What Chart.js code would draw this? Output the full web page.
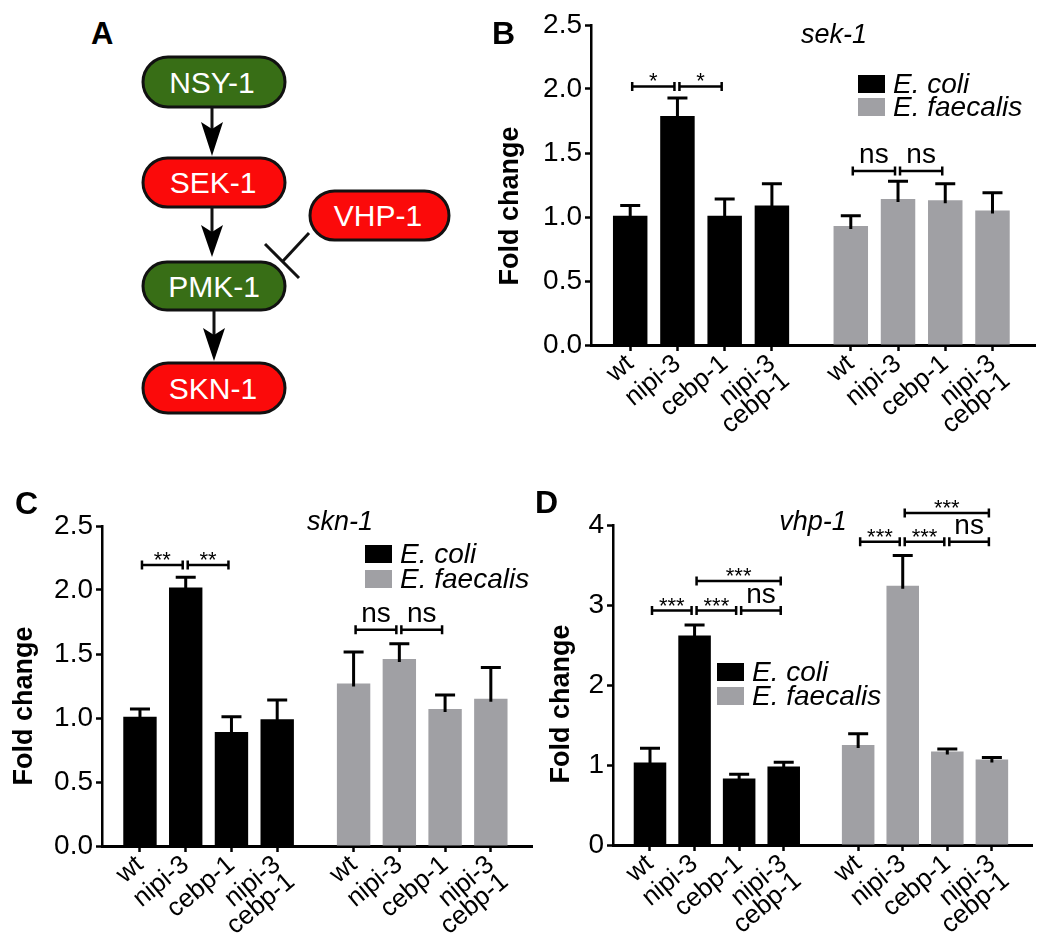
<!DOCTYPE html>
<html>
<head>
<meta charset="utf-8">
<script src="https://cdn.jsdelivr.net/npm/chart.js@4.4.0/dist/chart.umd.min.js"></script>
<style>
  body { margin: 0; background: #fff; }
  #fig { position: relative; width: 1050px; height: 950px; background: #fff; overflow: hidden; }
  #fig canvas, #fig svg { position: absolute; }
  svg text { font-family: "Liberation Sans", Arial, sans-serif; }
</style>
</head>
<body>
<div id="fig">
  <!-- panel A: pathway sketch -->
  <svg id="panelA" width="480" height="460" style="left:0;top:0">
    <text x="91" y="44" font-size="31" font-weight="bold">A</text>
    <g stroke="#111" stroke-width="3">
      <rect x="143" y="57" width="142" height="50" rx="25" fill="#386e16"/>
      <rect x="143" y="158" width="142" height="49" rx="24.5" fill="#fb0a0a"/>
      <rect x="143" y="262" width="142" height="48" rx="24" fill="#386e16"/>
      <rect x="143" y="363" width="142" height="50" rx="25" fill="#fb0a0a"/>
      <rect x="310" y="191" width="139" height="49" rx="24.5" fill="#fb0a0a"/>
      <line x1="212" y1="108" x2="212" y2="130"/>
      <line x1="212" y1="208" x2="212" y2="233"/>
      <line x1="214" y1="311" x2="214" y2="336"/>
      <line x1="309" y1="233" x2="283" y2="261"/>
      <line x1="265" y1="244" x2="299" y2="278"/>
    </g>
    <g fill="#000">
      <polygon points="201,122 212,129 223,122 212,156"/>
      <polygon points="201,225 212,232 223,225 212,257"/>
      <polygon points="203,328 214,335 225,328 214,361"/>
    </g>
    <g fill="#fff" font-size="30" text-anchor="middle">
      <text x="212" y="93">NSY-1</text>
      <text x="213" y="193">SEK-1</text>
      <text x="214" y="297">PMK-1</text>
      <text x="213" y="399">SKN-1</text>
      <text x="378" y="226">VHP-1</text>
    </g>
  </svg>
  <canvas id="chartB" width="570" height="470" style="left:480px;top:0"></canvas>
  <canvas id="chartC" width="545" height="480" style="left:0;top:470px"></canvas>
  <canvas id="chartD" width="530" height="480" style="left:520px;top:470px"></canvas>
</div>
<script>
Chart.defaults.font.family = '"Liberation Sans", Arial, Helvetica, sans-serif';
Chart.defaults.color = '#000';

const groupNames = ['E. coli', 'E. faecalis'];
const groupColors = ['#000000', '#a0a0a4'];
const strainLabels = ['wt', 'nipi-3', 'cebp-1', ['nipi-3', 'cebp-1'],
                      'wt', 'nipi-3', 'cebp-1', ['nipi-3', 'cebp-1']];
const barX = [1, 2, 3, 4, 5.67, 6.67, 7.67, 8.67];

// B  sek-1
const sekColi = [1.01, 1.79, 1.01, 1.09];
const sekColiSem = [0.08, 0.14, 0.13, 0.17];
const sekFaec = [0.93, 1.14, 1.13, 1.05];
const sekFaecSem = [0.08, 0.14, 0.13, 0.14];
const sekTicks = [0, 0.5, 1, 1.5, 2, 2.5];
const sekSig = [[0, 1, 2.02, '*'], [1, 2, 2.02, '*'], [4, 5, 1.36, 'ns'], [5, 6, 1.36, 'ns']];

// C  skn-1
const sknColi = [1.01, 2.02, 0.89, 0.99];
const sknColiSem = [0.06, 0.08, 0.12, 0.15];
const sknFaec = [1.27, 1.46, 1.07, 1.15];
const sknFaecSem = [0.245, 0.12, 0.11, 0.245];
const sknTicks = [0, 0.5, 1, 1.5, 2, 2.5];
const sknSig = [[0, 1, 2.195, '**'], [1, 2, 2.195, '**'], [4, 5, 1.69, 'ns'], [5, 6, 1.69, 'ns']];

// D  vhp-1
const vhpColi = [1.03, 2.62, 0.83, 0.98];
const vhpColiSem = [0.18, 0.13, 0.055, 0.055];
const vhpFaec = [1.25, 3.24, 1.17, 1.07];
const vhpFaecSem = [0.14, 0.38, 0.03, 0.025];
const vhpTicks = [0, 1, 2, 3, 4];
const vhpSig = [[0, 1, 2.93, '***'], [1, 2, 2.93, '***'], [2, 3, 2.93, 'ns'], [1, 3, 3.3, '***'],
                [4, 5, 3.79, '***'], [5, 6, 3.79, '***'], [6, 7, 3.79, 'ns'], [5, 7, 4.15, '***']];

const decor = {
  id: 'decor',
  afterDatasetsDraw(chart, args, o) {
    const ctx = chart.ctx, xs = chart.scales.x, ys = chart.scales.y;
    ctx.save();
    ctx.strokeStyle = '#000';
    ctx.lineWidth = 3;
    chart.data.datasets.forEach(ds => {
      ds.data.forEach((d, i) => {
        const px = xs.getPixelForValue(d.x);
        const py = ys.getPixelForValue(d.y);
        const pt = ys.getPixelForValue(d.y + ds.sem[i]);
        ctx.beginPath();
        ctx.moveTo(px, py + 3);
        ctx.lineTo(px, pt);
        ctx.moveTo(px - 10, pt);
        ctx.lineTo(px + 10, pt);
        ctx.stroke();
      });
    });
    ctx.restore();
  },
  afterDraw(chart, args, o) {
    const ctx = chart.ctx, xs = chart.scales.x, ys = chart.scales.y;
    ctx.save();
    ctx.fillStyle = '#000';
    ctx.strokeStyle = '#000';
    // significance brackets
    ctx.lineWidth = 2.5;
    ctx.textAlign = 'center';
    ctx.textBaseline = 'alphabetic';
    o.sig.forEach(([a, b, v, lab]) => {
      const x1 = xs.getPixelForValue(barX[a]) + 2;
      const x2 = xs.getPixelForValue(barX[b]) - 3;
      const py = ys.getPixelForValue(v);
      ctx.beginPath();
      ctx.moveTo(x1, py); ctx.lineTo(x2, py);
      ctx.moveTo(x1, py - 4.5); ctx.lineTo(x1, py + 4.5);
      ctx.moveTo(x2, py - 4.5); ctx.lineTo(x2, py + 4.5);
      ctx.stroke();
      if (lab === 'ns') {
        ctx.font = '28px "Liberation Sans", Arial, sans-serif';
        ctx.fillText(lab, (x1 + x2) / 2, py - 8);
      } else {
        ctx.font = '22px "Liberation Sans", Arial, sans-serif';
        ctx.fillText(lab, (x1 + x2) / 2, py + 2);
      }
    });
    // gene title
    ctx.font = 'italic 27px "Liberation Sans", Arial, sans-serif';
    ctx.textBaseline = 'middle';
    ctx.fillText(o.title, o.titleX, o.titleY);
    // panel letter
    ctx.font = 'bold 32px "Liberation Sans", Arial, sans-serif';
    ctx.textAlign = 'left';
    ctx.fillText(o.letter, o.letterX, o.letterY);
    // legend
    ctx.font = 'italic 28px "Liberation Sans", Arial, sans-serif';
    chart.data.datasets.forEach((ds, k) => {
      const top = o.legY + k * o.legGap;
      ctx.fillStyle = ds.backgroundColor;
      ctx.fillRect(o.legX, top, 27, 18);
      ctx.fillStyle = '#000';
      ctx.fillText(ds.label, o.legX + 35, top + 10);
    });
    // y title
    ctx.font = 'bold 27px "Liberation Sans", Arial, sans-serif';
    ctx.textAlign = 'center';
    ctx.translate(o.ylabX, o.ylabY);
    ctx.rotate(-Math.PI / 2);
    ctx.fillText('Fold change', 0, 0);
    ctx.restore();
  }
};

function makeChart(id, coli, coliSem, faec, faecSem, yTicks, digits, geo, deco) {
  const mk = (vals, off) => vals.map((v, i) => ({ x: barX[i + off], y: v }));
  return new Chart(document.getElementById(id), {
    type: 'bar',
    data: {
      datasets: [
        { label: groupNames[0], data: mk(coli, 0), sem: coliSem, backgroundColor: groupColors[0] },
        { label: groupNames[1], data: mk(faec, 4), sem: faecSem, backgroundColor: groupColors[1] }
      ]
    },
    options: {
      responsive: false,
      animation: false,
      devicePixelRatio: 1,
      events: [],
      layout: { padding: { left: 0, top: geo.top, right: geo.right, bottom: 0 } },
      datasets: { bar: { grouped: false, categoryPercentage: 1, barPercentage: 0.73 } },
      scales: {
        x: {
          type: 'linear', min: 0.17, max: 9.57, offset: false,
          afterBuildTicks: s => { s.ticks = barX.map(v => ({ value: v })); },
          afterFit: s => { s.height = geo.xh; },
          grid: { display: true, drawOnChartArea: false, drawTicks: true, tickLength: 6,
                  tickWidth: 2.5, tickColor: '#000', offset: false },
          border: { display: true, color: '#000', width: 3 },
          ticks: {
            autoSkip: false, maxRotation: 40, minRotation: 40, padding: 1,
            font: { size: 26, lineHeight: 0.85 }, color: '#000',
            callback: (v, i) => strainLabels[i]
          }
        },
        y: {
          min: yTicks[0], max: yTicks[yTicks.length - 1],
          afterBuildTicks: s => { s.ticks = yTicks.map(v => ({ value: v })); },
          afterFit: s => { s.width = geo.yw; },
          grid: { display: true, drawOnChartArea: false, drawTicks: true, tickLength: 6,
                  tickWidth: 2.5, tickColor: '#000' },
          border: { display: true, color: '#000', width: 2.5 },
          ticks: { padding: 3, font: { size: 28 }, color: '#000',
                   callback: v => v.toFixed(digits) }
        }
      },
      plugins: { legend: { display: false }, tooltip: { enabled: false }, decor: deco }
    },
    plugins: [decor]
  });
}

makeChart('chartB', sekColi, sekColiSem, sekFaec, sekFaecSem, sekTicks, 1,
  { top: 25, right: 15, xh: 125, yw: 111 },
  { sig: sekSig, title: 'sek-1', titleX: 354, titleY: 35, letter: 'B', letterX: 12, letterY: 35,
    legX: 378, legY: 75, legGap: 23, ylabX: 31, ylabY: 206 });

makeChart('chartC', sknColi, sknColiSem, sknFaec, sknFaecSem, sknTicks, 1,
  { top: 56, right: 13, xh: 104, yw: 102 },
  { sig: sknSig, title: 'skn-1', titleX: 340, titleY: 52, letter: 'C', letterX: 15, letterY: 35,
    legX: 365, legY: 75, legGap: 25, ylabX: 25, ylabY: 236 });

makeChart('chartD', vhpColi, vhpColiSem, vhpFaec, vhpFaecSem, vhpTicks, 0,
  { top: 55, right: 18, xh: 105, yw: 93 },
  { sig: vhpSig, title: 'vhp-1', titleX: 293, titleY: 52, letter: 'D', letterX: 15, letterY: 34,
    legX: 197, legY: 193, legGap: 24, ylabX: 42, ylabY: 234 });
</script>
</body>
</html>
